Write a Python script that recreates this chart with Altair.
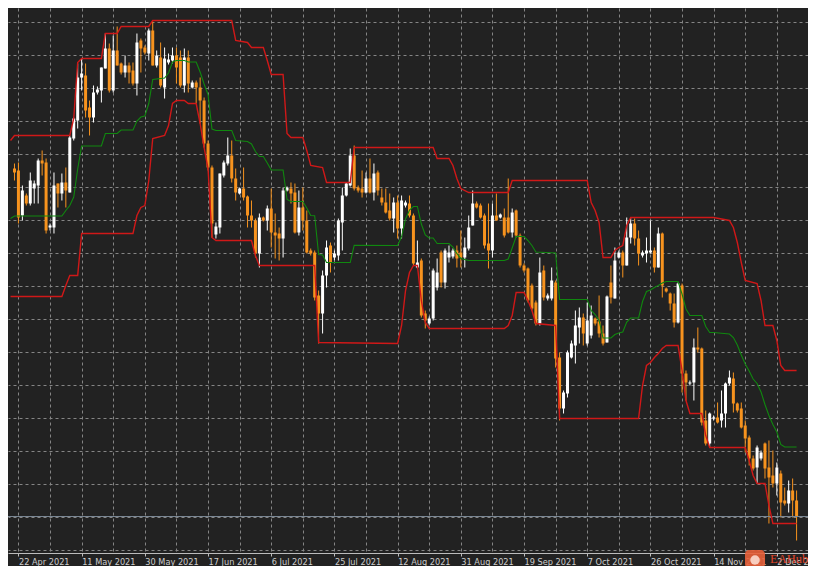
import altair as alt
import pandas as pd

# ---------------- data (price units of the chart) ----------------
first_bar = 2
open_ = [432, 430, 385, 405, 397, 412, 415, 440, 438, 373,
         373, 417, 407, 418, 408, 462, 480, 523, 525, 493,
         483, 508, 510, 532, 552, 510, 550, 537, 528, 535,
         530, 517, 560, 553, 547, 570, 535, 543, 513, 538,
         540, 545, 543, 515, 543, 513, 518, 513, 500, 457,
         433, 366, 373, 425, 437, 445, 422, 407, 412, 404,
         385, 380, 347, 383, 380, 392, 368, 367, 362, 410,
         412, 408, 368, 393, 380, 350, 348, 305, 287, 325,
         355, 343, 345, 378, 405, 415, 445, 413, 412, 408,
         422, 408, 428, 403, 398, 390, 382, 398, 372, 395,
         397, 385, 333, 340, 287, 277, 282, 313, 348, 318,
         343, 344, 350, 348, 343, 352, 375, 397, 395, 385,
         357, 350, 385, 383, 383, 383, 368, 390, 365, 335,
         332, 315, 298, 277, 330, 302, 302, 318, 243, 192,
         207, 243, 255, 273, 283, 257, 265, 282, 279, 267,
         258, 318, 302, 343, 348, 335, 363, 377, 362, 345,
         347, 348, 350, 333, 367, 312, 307, 297, 278, 315,
         227, 217, 218, 253, 252, 180, 157, 182, 183, 180,
         187, 217, 222, 197, 192, 175, 163, 142, 133, 142,
         157, 133, 125, 117, 127, 100, 97, 110, 100]
high = [437, 438, 415, 407, 428, 420, 442, 450, 442, 377,
        428, 417, 427, 433, 465, 483, 537, 542, 537, 500,
        515, 514, 533, 567, 557, 565, 574, 538, 545, 538,
        538, 567, 562, 555, 572, 579, 550, 558, 553, 547,
        553, 553, 550, 552, 550, 520, 520, 523, 503, 460,
        435, 378, 427, 440, 463, 460, 432, 413, 433, 405,
        400, 382, 387, 384, 395, 412, 387, 373, 413, 414,
        418, 417, 410, 413, 390, 352, 350, 310, 330, 360,
        358, 350, 382, 413, 418, 452, 455, 415, 430, 428,
        442, 437, 430, 412, 412, 407, 403, 405, 405, 400,
        405, 387, 360, 342, 290, 284, 332, 342, 350, 352,
        355, 352, 355, 370, 363, 385, 410, 399, 397, 387,
        397, 397, 407, 387, 392, 422, 392, 391, 367, 337,
        333, 317, 300, 343, 335, 307, 333, 320, 248, 210,
        250, 260, 290, 293, 287, 298, 295, 283, 305, 275,
        305, 335, 353, 350, 350, 383, 383, 382, 370, 350,
        363, 380, 353, 373, 368, 313, 308, 307, 318, 317,
        230, 220, 262, 273, 253, 190, 188, 185, 198, 210,
        218, 230, 228, 198, 198, 180, 165, 145, 155, 150,
        158, 160, 150, 138, 130, 113, 120, 122, 110]
low = [420, 377, 380, 395, 395, 397, 397, 425, 367, 370,
       367, 393, 400, 393, 408, 460, 472, 510, 483, 465,
       478, 506, 498, 532, 508, 508, 535, 526, 523, 517,
       515, 505, 528, 546, 540, 535, 533, 513, 502, 536,
       537, 517, 513, 508, 508, 512, 497, 477, 453, 430,
       363, 362, 367, 423, 435, 418, 400, 406, 400, 373,
       373, 343, 333, 379, 370, 353, 342, 340, 343, 409,
       397, 367, 365, 370, 347, 345, 300, 257, 267, 313,
       328, 340, 340, 350, 404, 414, 410, 408, 403, 407,
       407, 400, 405, 395, 387, 380, 368, 362, 362, 393,
       383, 335, 332, 283, 272, 275, 280, 310, 313, 312,
       338, 342, 333, 333, 333, 350, 375, 392, 382, 352,
       332, 343, 380, 382, 363, 367, 363, 363, 333, 328,
       298, 290, 275, 275, 300, 300, 300, 233, 180, 187,
       203, 242, 237, 257, 255, 255, 262, 275, 263, 255,
       258, 297, 302, 342, 323, 335, 357, 355, 335, 343,
       338, 347, 328, 333, 303, 308, 290, 273, 277, 208,
       200, 215, 200, 248, 175, 155, 153, 180, 177, 173,
       173, 215, 188, 188, 172, 148, 135, 130, 117, 140,
       122, 77, 113, 105, 83, 95, 88, 83, 60]
close = [428, 383, 410, 397, 420, 417, 440, 437, 370, 375,
         415, 407, 418, 410, 463, 482, 523, 527, 490, 483,
         508, 511, 533, 552, 510, 550, 535, 528, 535, 528,
         517, 558, 552, 548, 570, 535, 545, 515, 542, 541,
         545, 533, 515, 543, 517, 518, 513, 500, 457, 433,
         377, 374, 427, 438, 445, 422, 408, 412, 403, 385,
         380, 347, 383, 380, 392, 368, 365, 362, 410, 413,
         407, 368, 393, 380, 348, 347, 303, 287, 325, 353,
         338, 347, 380, 405, 417, 445, 412, 410, 408, 422,
         408, 427, 410, 398, 388, 382, 398, 372, 400, 398,
         385, 337, 338, 285, 280, 282, 330, 328, 318, 350,
         348, 350, 342, 343, 353, 373, 397, 393, 383, 355,
         350, 385, 380, 386, 365, 368, 388, 365, 335, 330,
         300, 292, 277, 328, 303, 305, 320, 242, 192, 208,
         248, 257, 275, 283, 267, 280, 285, 277, 267, 257,
         304, 303, 340, 348, 335, 363, 377, 362, 347, 348,
         350, 350, 333, 367, 315, 309, 297, 278, 317, 227,
         218, 218, 253, 251, 178, 157, 187, 183, 178, 187,
         217, 223, 197, 190, 173, 162, 142, 132, 153, 148,
         132, 123, 117, 133, 98, 97, 110, 100, 84]

# Donchian channel (vertices)
upper_bar = [1, 2, 16, 17, 18, 19, 24, 25, 28, 29, 36, 37, 57, 58, 61, 62, 65, 66, 67, 70,
             71, 72, 75, 76, 77, 80, 81, 87, 88, 108, 109, 112, 113, 114, 115, 117, 127, 128, 147, 148,
             149, 150, 151, 153, 154, 155, 156, 157, 158, 179, 183, 184, 185, 186, 187, 190, 191, 192, 194, 195,
             196, 197, 200]
upper_val = [460, 465, 465, 482, 538, 542, 542, 567, 567, 574, 574, 580, 580, 560, 558, 553, 553, 540, 526, 526,
             467, 463, 463, 450, 435, 433, 418, 418, 453, 453, 442, 442, 435, 422, 412, 408, 408, 420, 420, 398,
             390, 378, 343, 343, 350, 353, 355, 375, 383, 383, 380, 373, 358, 338, 320, 317, 300, 275, 275, 260,
             235, 230, 230]
lower_bar = [1, 14, 15, 16, 18, 19, 32, 33, 34, 35, 36, 37, 40, 41, 42, 43, 45, 46, 48, 49,
             50, 51, 52, 53, 62, 63, 64, 78, 79, 99, 100, 101, 102, 103, 104, 105, 106, 107, 126, 127,
             128, 129, 131, 132, 133, 134, 139, 140, 160, 161, 162, 163, 164, 165, 166, 167, 170, 171, 172, 173,
             176, 177, 178, 187, 188, 189, 190, 192, 193, 194, 200]
lower_val = [304, 304, 315, 325, 325, 367, 367, 385, 393, 395, 420, 462, 465, 475, 497, 500, 500, 497, 497, 477,
             453, 432, 363, 360, 360, 345, 335, 335, 258, 257, 275, 310, 328, 335, 335, 300, 278, 272, 272, 275,
             285, 308, 308, 300, 290, 277, 275, 182, 182, 215, 235, 238, 243, 247, 252, 255, 255, 230, 200, 187,
             187, 165, 153, 153, 140, 125, 117, 117, 95, 77, 77]
mid_bar = [1, 2, 14, 15, 16, 17, 18, 19, 24, 25, 28, 29, 32, 33, 34, 35, 36, 37, 40, 41,
           42, 43, 45, 46, 48, 49, 50, 51, 52, 53, 57, 58, 61, 62, 63, 64, 65, 66, 67, 70,
           71, 72, 75, 76, 77, 78, 79, 80, 81, 87, 88, 99, 100, 101, 102, 103, 104, 105, 106, 107,
           108, 109, 112, 113, 114, 115, 117, 126, 127, 128, 129, 131, 132, 133, 134, 139, 140, 147, 148, 149,
           150, 151, 153, 154, 155, 156, 157, 158, 160, 161, 162, 163, 164, 165, 166, 167, 170, 171, 172, 173,
           176, 177, 178, 179, 183, 184, 185, 186, 187, 188, 189, 190, 191, 192, 193, 194, 195, 196, 197, 200]
mid_val = [382, 384.5, 384.5, 390, 395, 403.5, 431.5, 454.5, 454.5, 467, 467, 470.5, 470.5, 479.5, 483.5, 484.5, 497, 521, 522.5, 527.5,
           538.5, 540, 540, 538.5, 538.5, 528.5, 516.5, 506, 471.5, 470, 470, 460, 459, 456.5, 449, 444, 444, 437.5, 430.5, 430.5,
           401, 399, 399, 392.5, 385, 384.7, 346, 345.5, 338, 338, 355.2, 355, 364, 381.5, 390.5, 394, 394, 376.5, 365.5, 362.5,
           362.5, 357, 357, 353.5, 347, 342, 340, 340, 341.5, 352.5, 364, 364, 360, 355, 348.5, 347.5, 301, 301, 290, 286,
           280, 262.5, 262.5, 266, 267.5, 268.5, 278.5, 282.5, 282.5, 299, 309, 310.5, 313, 315, 317.5, 319, 319, 306.5, 291.5, 285,
           285, 274, 268, 268, 266.5, 263, 255.5, 245.5, 236.5, 229.5, 221.5, 217, 208.5, 196, 185, 176, 168.5, 156, 153.5, 153.5]

tick_bars = [3, 19, 35, 51, 67, 83, 99, 115, 131, 147, 163, 179, 195]
tick_labels = ["22 Apr 2021", "11 May 2021", "30 May 2021", "17 Jun 2021", "6 Jul 2021",
               "25 Jul 2021", "12 Aug 2021", "31 Aug 2021", "19 Sep 2021", "7 Oct 2021",
               "26 Oct 2021", "14 Nov 2021", "2 Dec 2021"]
watermark = ["EAHub"]

# ---------------- tables ----------------
n = len(open_)
candles = pd.DataFrame({
    "bar": list(range(first_bar, first_bar + n)),
    "open": open_, "high": high, "low": low, "close": close,
})
candles["dir"] = ["up" if c >= o else "down" for o, c in zip(open_, close)]
upper_df = pd.DataFrame({"bar": upper_bar, "val": upper_val})
lower_df = pd.DataFrame({"bar": lower_bar, "val": lower_val})
mid_df = pd.DataFrame({"bar": mid_bar, "val": mid_val})
last_df = candles.tail(1)

# ---------------- styling ----------------
BG = "#222222"
GRID = "#858585"
UP = "#ffffff"
DOWN = "#f7931e"
RED = "#d01818"
GREEN = "#10880f"

grid_bars = list(range(3, 200, 8))
grid_vals = [578 - round(32.94 * i, 2) for i in range(17)]

label_expr = "''"
for b, lab in reversed(list(zip(tick_bars, tick_labels))):
    label_expr = f"datum.value === {b} ? '{lab}' : " + label_expr

xscale = alt.Scale(domain=[1.625, 201.625], nice=False, zero=False)
yscale = alt.Scale(domain=[47.5, 592.5], nice=False, zero=False)

xaxis = alt.Axis(
    values=grid_bars, labelExpr=label_expr, title=None,
    grid=True, gridColor=GRID, gridDash=[3, 3], gridWidth=1,
    domain=True, domainColor="#bcbcbc", domainWidth=1,
    ticks=True, tickSize=3, tickColor="#bcbcbc",
    tickOpacity={"condition": {"test": f"indexof({tick_bars}, datum.value) >= 0", "value": 1}, "value": 0},
    labelAlign="left", labelBaseline="middle", labelPadding=6, labelAngle=0,
    labelFont="DejaVu Sans", labelFontSize=8.2, labelColor="#cdcdcd",
    labelOverlap=False, labelFlush=False, labelBound=False,
)
yaxis = alt.Axis(
    values=grid_vals, title=None, labels=False, ticks=False, domain=False,
    grid=True, gridColor=GRID, gridDash=[3, 3], gridWidth=1, orient="right",
)

x_enc = alt.X("bar:Q", scale=xscale, axis=xaxis)
color_enc = alt.Color("dir:N", scale=alt.Scale(domain=["up", "down"], range=[UP, DOWN]), legend=None)

base = alt.Chart(candles)
wicks = base.mark_rule(strokeWidth=1, clip=True).encode(
    x=x_enc,
    y=alt.Y("low:Q", scale=yscale, axis=yaxis),
    y2="high:Q",
    color=color_enc,
)
bodies = base.mark_bar(size=3, clip=True).encode(
    x=x_enc,
    y=alt.Y("open:Q", scale=yscale, axis=yaxis),
    y2="close:Q",
    color=color_enc,
)
bid = alt.Chart(last_df).mark_rule(color="#7a8794", strokeWidth=1).encode(
    y=alt.Y("close:Q", scale=yscale, axis=yaxis)
)
upper = alt.Chart(upper_df).mark_line(color=RED, strokeWidth=1.4, clip=True).encode(
    x=x_enc, y=alt.Y("val:Q", scale=yscale, axis=yaxis))
lower = alt.Chart(lower_df).mark_line(color=RED, strokeWidth=1.4, clip=True).encode(
    x=x_enc, y=alt.Y("val:Q", scale=yscale, axis=yaxis))
middle = alt.Chart(mid_df).mark_line(color=GREEN, strokeWidth=1.1, clip=True).encode(
    x=x_enc, y=alt.Y("val:Q", scale=yscale, axis=yaxis))

wm_df = pd.DataFrame({"t": watermark})
icon = alt.Chart(wm_df).mark_rect(color="#e8603a", opacity=0.9, cornerRadius=4).encode(
    x=alt.value(737), x2=alt.value(757), y=alt.value(542), y2=alt.value(560))
face = alt.Chart(wm_df).mark_point(filled=True, color="#f9d4c6", size=90, opacity=0.95).encode(
    x=alt.value(747), y=alt.value(552))
wm_text = alt.Chart(wm_df).mark_text(
    align="left", baseline="middle", font="Liberation Serif", fontSize=12.5,
    color="#e0452a", opacity=1,
).encode(x=alt.value(762), y=alt.value(551), text="t:N")

chart = alt.layer(wicks, bodies, bid, upper, lower, middle, icon, face, wm_text).properties(
    width=800, height=545,
    autosize=alt.AutoSizeParams(type="none"),
    padding={"left": 0, "top": 0, "right": 0, "bottom": 13},
    background=BG,
).configure_view(strokeWidth=0, fill=BG)

chart.save("out.html", embed_options={"renderer": "svg", "actions": False})
